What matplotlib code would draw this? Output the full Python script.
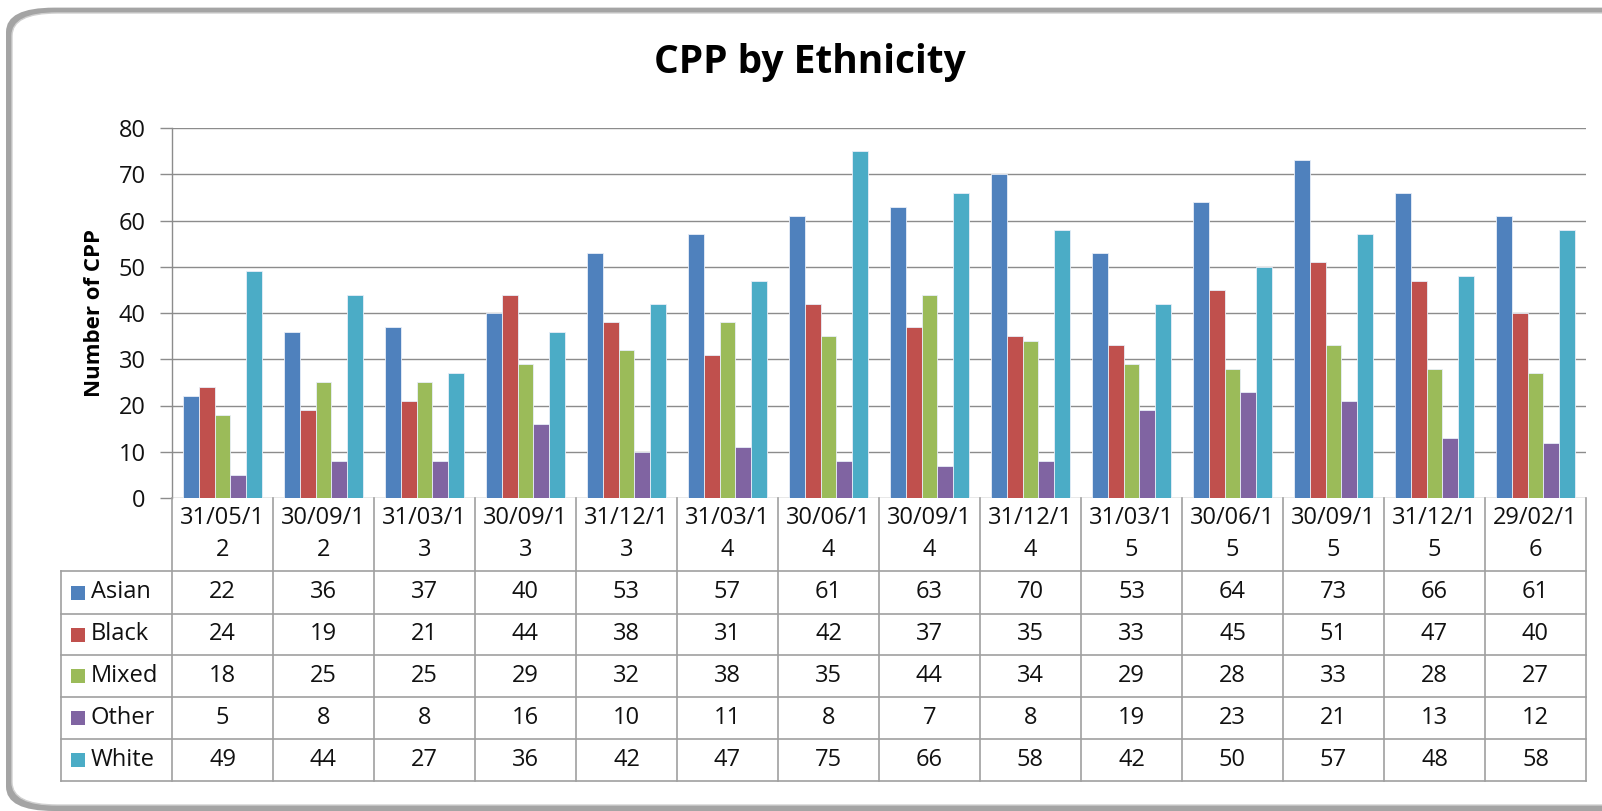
import matplotlib
matplotlib.use("Agg")
import matplotlib.pyplot as plt
import numpy as np
from matplotlib.patches import FancyBboxPatch, Rectangle

categories = ["31/05/12", "30/09/12", "31/03/13", "30/09/13", "31/12/13", "31/03/14",
              "30/06/14", "30/09/14", "31/12/14", "31/03/15", "30/06/15", "30/09/15",
              "31/12/15", "29/02/16"]
series_names = ["Asian", "Black", "Mixed", "Other", "White"]
asian = [22, 36, 37, 40, 53, 57, 61, 63, 70, 53, 64, 73, 66, 61]
black = [24, 19, 21, 44, 38, 31, 42, 37, 35, 33, 45, 51, 47, 40]
mixed = [18, 25, 25, 29, 32, 38, 35, 44, 34, 29, 28, 33, 28, 27]
other = [5, 8, 8, 16, 10, 11, 8, 7, 8, 19, 23, 21, 13, 12]
white = [49, 44, 27, 36, 42, 47, 75, 66, 58, 42, 50, 57, 48, 58]
colors = ["#4F81BD", "#C0504D", "#9BBB59", "#8064A2", "#4BACC6"]
yticks = [0, 10, 20, 30, 40, 50, 60, 70, 80]

series = [asian, black, mixed, other, white]

plt.rcParams['font.family'] = ['Open Sans', 'DejaVu Sans']

W, H = 1602, 811
fig = plt.figure(figsize=(W / 100, H / 100), dpi=100)

def fx(px):
    return px / W

def fy(py):
    return 1 - py / H

# frame with shadow
shadow = FancyBboxPatch((fx(6), fy(811)), fx(1700), fy(6) - fy(811) - 0.002,
                        boxstyle="round,pad=0,rounding_size=0.03",
                        transform=fig.transFigure, facecolor="#a4a4a4",
                        edgecolor="none", zorder=0)
fig.patches.append(shadow)
frame = FancyBboxPatch((fx(12), fy(805)), fx(1700), fy(13) - fy(805),
                       boxstyle="round,pad=0,rounding_size=0.028",
                       transform=fig.transFigure, facecolor="white",
                       edgecolor="#d0d0d0", linewidth=1.0, zorder=0.5)
fig.patches.append(frame)

left, right, top, bottom = 172, 1586, 128, 498
ax = fig.add_axes([fx(left), fy(bottom), fx(right - left), fy(top) - fy(bottom)])
ax.set_zorder(3)
ax.set_facecolor("none")
n = len(categories)
x = np.arange(n)
bw = 0.158
for i, (vals, c) in enumerate(zip(series, colors)):
    ax.bar(x + (i - 2) * bw, vals, width=bw, color=c, edgecolor="#e8eef8",
           linewidth=0.6, zorder=3)
ax.set_xlim(-0.5, n - 0.5)
ax.set_ylim(0, 80)
ax.set_yticks(yticks)
ax.set_yticklabels([str(t) for t in yticks], fontsize=17)
ax.tick_params(axis='y', length=9, width=1, color="#8c8c8c", pad=10, labelcolor="#111111")
ax.set_xticks([])
ax.grid(axis='y', color="#8c8c8c", linewidth=1, zorder=0)
for s in ["top", "right", "bottom"]:
    ax.spines[s].set_visible(False)
ax.spines["left"].set_color("#8c8c8c")
ax.spines["left"].set_linewidth(1)
ax.set_ylabel("Number of CPP", fontsize=16, fontweight="bold", labelpad=10)

# title
fig.text(fx(810), fy(62), "CPP by Ethnicity", fontsize=28, fontweight="bold",
         ha="center", va="center", zorder=5)

# data table
tab_left = 61
row_edges = [498, 571, 614, 655, 697, 739, 781]
col_w = (right - left) / n
line_kw = dict(color="#a0a0a0", linewidth=1.2, transform=fig.transFigure, zorder=5)
for j in range(n + 1):
    xx = left + j * col_w
    fig.add_artist(plt.Line2D([fx(xx), fx(xx)], [fy(row_edges[0]), fy(row_edges[-1])], **line_kw))
fig.add_artist(plt.Line2D([fx(tab_left), fx(tab_left)], [fy(row_edges[1]), fy(row_edges[-1])], **line_kw))
for ry in row_edges[1:]:
    fig.add_artist(plt.Line2D([fx(tab_left), fx(right)], [fy(ry), fy(ry)], **line_kw))

tkw = dict(fontsize=17, ha="center", va="center", color="#111111", zorder=6)
for j, cat in enumerate(categories):
    cx = left + (j + 0.5) * col_w
    fig.text(fx(cx), fy(518), cat[:7], **tkw)
    fig.text(fx(cx), fy(550), cat[7:], **tkw)

for r, (name, vals, c) in enumerate(zip(series_names, series, colors)):
    y0, y1 = row_edges[r + 1], row_edges[r + 2]
    cy = (y0 + y1) / 2
    fig.add_artist(Rectangle((fx(71), fy(cy + 7)), fx(14), fy(cy - 7) - fy(cy + 7),
                             transform=fig.transFigure, facecolor=c, edgecolor="none", zorder=6))
    fig.text(fx(91), fy(cy), name, fontsize=17, ha="left", va="center", color="#111111", zorder=6)
    for j, v in enumerate(vals):
        cx = left + (j + 0.5) * col_w
        fig.text(fx(cx), fy(cy), str(v), **tkw)

fig.savefig("out.png", dpi=100, facecolor="white")
